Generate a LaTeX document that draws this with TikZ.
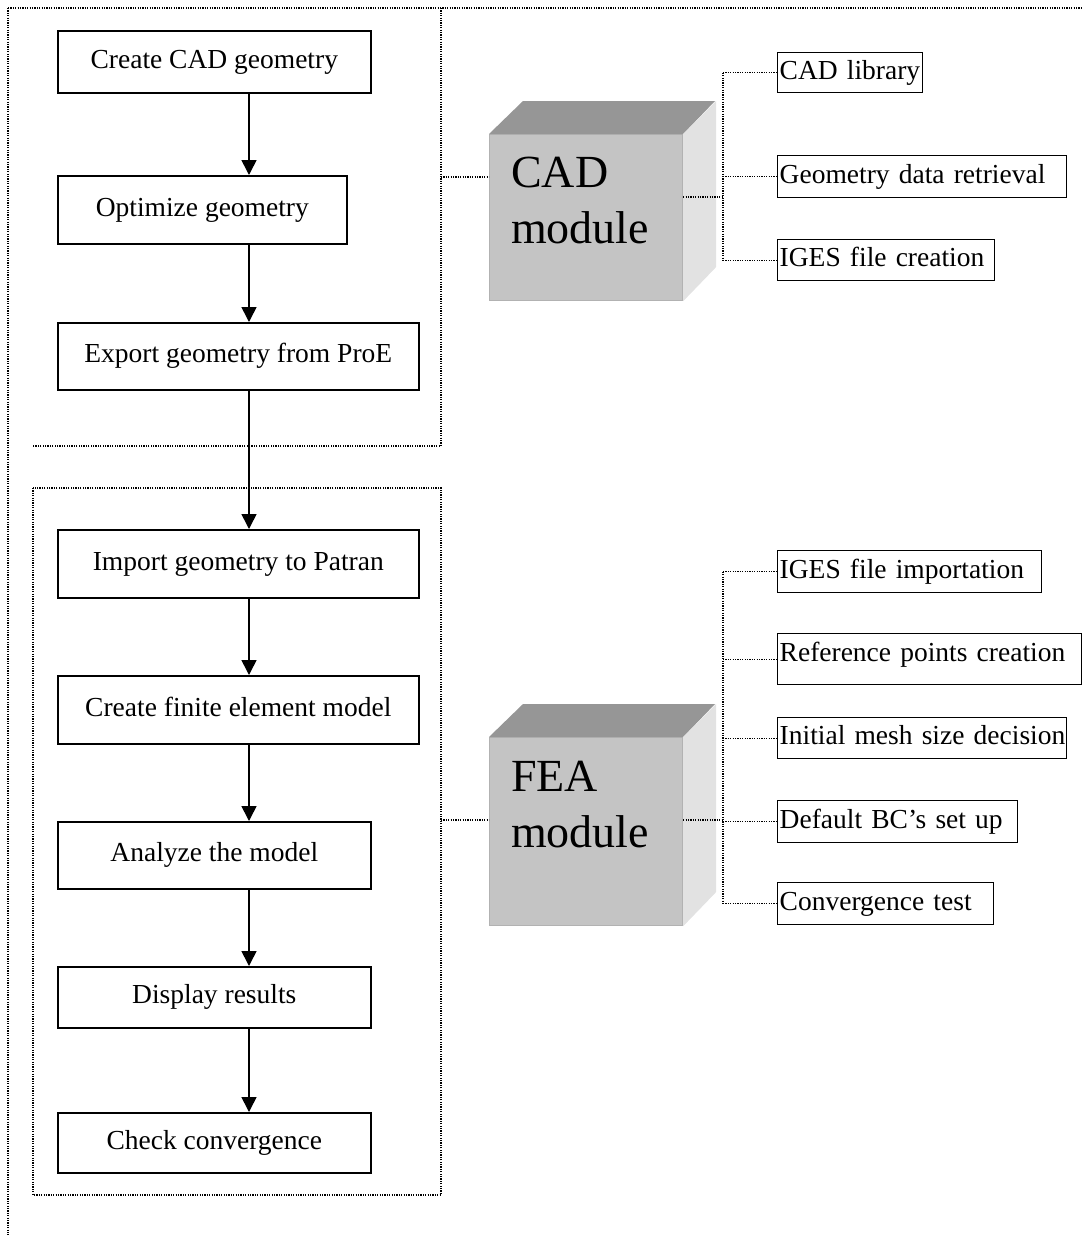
\documentclass[tikz,border=0pt]{standalone}
\usepackage{fontspec}
\setmainfont{Liberation Serif}
\usetikzlibrary{arrows.meta,positioning}

\definecolor{cubefront}{RGB}{196,196,196}
\definecolor{cubetop}{RGB}{150,150,150}
\definecolor{cubeside}{RGB}{226,226,226}
\definecolor{cubeedge}{RGB}{178,178,178}

\tikzset{
  stepbox/.style={draw, line width=1.6pt, inner sep=0pt, anchor=north west,
    text height=19pt, text depth=6pt, font=\fontsize{27.5}{33}\selectfont},
  taskbox/.style={draw, line width=1.4pt, inner xsep=2pt, inner ysep=0pt,
    anchor=north west, align=left, text height=19pt, text depth=6pt,
    font=\fontsize{27.5}{33}\selectfont},
  cubebox/.style={fill=cubefront, draw=cubeedge, line width=1.2pt,
    inner sep=0pt, anchor=north west, minimum width=193pt},
  cubetext/.style={inner sep=0pt, anchor=north west, align=left,
    font=\fontsize{46}{56}\selectfont},
  flow/.style={line width=1.6pt, -{Triangle[length=15pt,width=15pt]}},
  dots/.style={line width=1.3pt, dash pattern=on 1.2pt off 1.2pt}
}

\begin{document}
\begin{tikzpicture}[x=1pt,y=1pt]
  \useasboundingbox (0,0) rectangle (1082,-1235);

  % frames
  \draw[dots] (8,-8) -- (1082,-8);
  \draw[dots] (8,-8) -- (8,-1235);
  \draw[dots] (441,-8) -- (441,-446) -- (33,-446);
  \draw[dots] (33,-488) rectangle (441,-1195);

  % process steps
  \node[stepbox, minimum width=313pt, minimum height=62pt] (create) at (57,-30) {Create CAD geometry};
  \node[stepbox, minimum width=289pt, minimum height=68pt] (optimize) at (57,-175) {Optimize geometry};
  \node[stepbox, minimum width=361pt, minimum height=67pt] (export) at (57,-322) {Export geometry from ProE};
  \node[stepbox, minimum width=361pt, minimum height=68pt] (import) at (57,-529) {Import geometry to Patran};
  \node[stepbox, minimum width=361pt, minimum height=68pt] (femodel) at (57,-675) {Create finite element model};
  \node[stepbox, minimum width=313pt, minimum height=67pt] (analyze) at (57,-821) {Analyze the model};
  \node[stepbox, minimum width=313pt, minimum height=61pt] (display) at (57,-966) {Display results};
  \node[stepbox, minimum width=313pt, minimum height=60pt] (check) at (57,-1112) {Check convergence};

  \coordinate (axis) at (249,0);
  \foreach \a/\b in {create/optimize, optimize/export, export/import,
                     import/femodel, femodel/analyze, analyze/display, display/check}
    \draw[flow] (\a.south -| axis) -- (\b.north -| axis);

  % CAD module
  \node[cubebox, minimum height=166pt] (cad) at (489,-134) {};
  \fill[cubetop] (cad.north west) -- ++(34,33) -- ++(192,0) -- (cad.north east) -- cycle;
  \fill[cubeside] (cad.north east) -- ++(33,33) -- ++(0,-166) -- (cad.south east) -- cycle;
  \node[cubetext] (cadlabel) at ([shift={(22,-23)}]cad.north west) {CAD\\module};

  \node[taskbox, text width=141pt, minimum height=40pt] (cadlib) at (777,-52) {\mbox{CAD library}};
  \node[taskbox, text width=285pt, minimum height=42pt] (georet) at (777,-155) {\mbox{Geometry data retrieval}};
  \node[taskbox, text width=213pt, minimum height=41pt] (igesout) at (777,-239) {\mbox{IGES file creation}};

  \coordinate (cadframe) at (441,-177);
  \coordinate (cadhub) at (723,-197);
  \draw[dots] (cadframe) -- (cadframe -| cad.west);
  \draw[dots] (cadhub -| cad.east) -- (cadhub);
  \draw[dots] (cadhub |- cadlib.west) -- (cadhub |- igesout.west);
  \foreach \t in {cadlib, georet, igesout}
    \draw[dots] (cadhub |- \t.west) -- (\t.west);

  % FEA module
  \node[cubebox, minimum height=188pt] (fea) at (489,-737) {};
  \fill[cubetop] (fea.north west) -- ++(34,33) -- ++(192,0) -- (fea.north east) -- cycle;
  \fill[cubeside] (fea.north east) -- ++(33,33) -- ++(0,-188) -- (fea.south east) -- cycle;
  \node[cubetext] (fealabel) at ([shift={(22,-24)}]fea.north west) {FEA\\module};

  \node[taskbox, text width=260pt, minimum height=42pt] (igesin) at (777,-550) {\mbox{IGES file importation}};
  \node[taskbox, text width=300pt, minimum height=51pt, text depth=15pt] (refpts) at (777,-633) {\mbox{Reference points creation}};
  \node[taskbox, text width=285pt, minimum height=41pt] (initmesh) at (777,-717) {\mbox{Initial mesh size decision}};
  \node[taskbox, text width=236pt, minimum height=42pt] (defbc) at (777,-800) {\mbox{Default BC’s set up}};
  \node[taskbox, text width=212pt, minimum height=42pt] (convtest) at (777,-882) {\mbox{Convergence test}};

  \coordinate (feaframe) at (441,-820);
  \coordinate (feahub) at (723,-820);
  \draw[dots] (feaframe) -- (feaframe -| fea.west);
  \draw[dots] (feahub -| fea.east) -- (feahub);
  \draw[dots] (feahub |- igesin.west) -- (feahub |- convtest.west);
  \foreach \t in {igesin, refpts, initmesh, defbc, convtest}
    \draw[dots] (feahub |- \t.west) -- (\t.west);
\end{tikzpicture}
\end{document}
